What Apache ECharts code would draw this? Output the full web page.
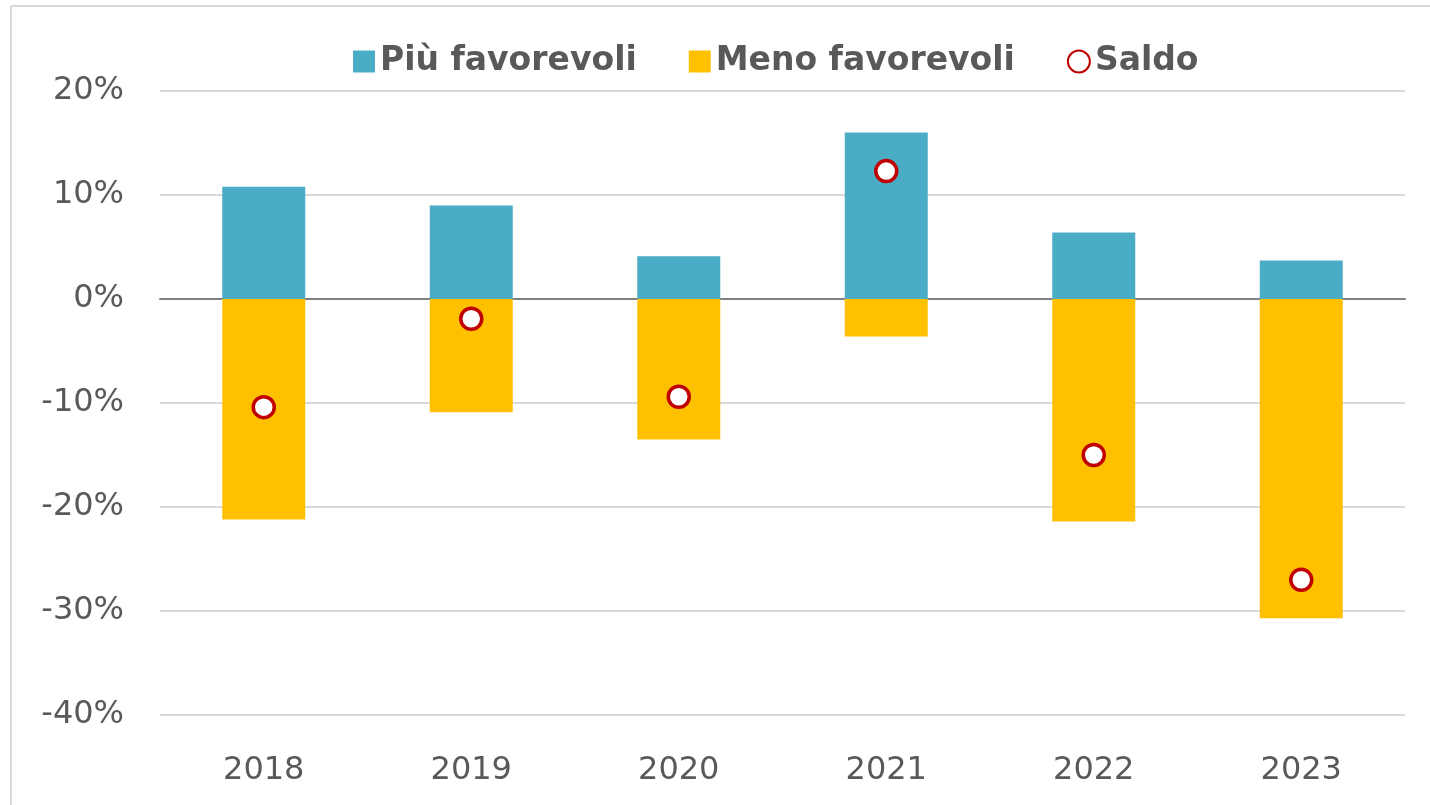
<!DOCTYPE html>
<html lang="it">
<head>
    <meta charset="UTF-8">
    <title>Saldo</title>
    <style>
        html, body { margin: 0; padding: 0; background: #fff; }
        #chart { width: 1430px; height: 805px; }
    </style>
</head>
<body>
    <div id="chart"></div>
    <script src="https://cdn.jsdelivr.net/npm/echarts@6/dist/echarts.min.js"></script>
    <script>
        var anni = ['2018', '2019', '2020', '2021', '2022', '2023'];
        var piuFavorevoli = [10.8, 9.0, 4.1, 16.0, 6.4, 3.7];
        var menoFavorevoli = [-21.2, -10.9, -13.5, -3.6, -21.4, -30.7];
        var saldo = [-10.4, -1.9, -9.4, 12.3, -15.0, -27.0];

        var font = 'Tahoma, "DejaVu Sans", sans-serif';
        var grigio = '#595959';

        var myChart = echarts.init(document.getElementById('chart'));
        var option = {
            animation: false,
            textStyle: { fontFamily: font },
            // cornice della figura (solo lato sinistro e alto visibili)
            graphic: [
                {
                    type: 'line',
                    shape: { x1: 11, y1: 6, x2: 1430, y2: 6 },
                    style: { stroke: '#d9d9d9', lineWidth: 2 },
                    silent: true
                },
                {
                    type: 'line',
                    shape: { x1: 11, y1: 6, x2: 11, y2: 805 },
                    style: { stroke: '#d9d9d9', lineWidth: 2 },
                    silent: true
                }
            ],
            legend: {
                top: 40,
                left: 348,
                itemWidth: 22,
                itemHeight: 22,
                itemGap: 52,
                textStyle: { fontSize: 33, fontWeight: 'bold', color: grigio, fontFamily: font },
                data: [
                    { name: 'Più favorevoli', icon: 'rect' },
                    { name: 'Meno favorevoli', icon: 'rect' },
                    { name: 'Saldo', icon: 'circle' }
                ]
            },
            grid: { left: 160, right: 25, top: 91, bottom: 90, containLabel: false },
            xAxis: {
                type: 'category',
                data: anni,
                axisLine: { onZero: true, lineStyle: { color: '#808080', width: 2 } },
                axisTick: { show: false },
                axisLabel: { fontSize: 32, color: grigio, margin: 40 }
            },
            yAxis: {
                type: 'value',
                min: -40,
                max: 20,
                interval: 10,
                axisLine: { show: false },
                axisTick: { show: false },
                splitLine: { lineStyle: { color: '#d9d9d9', width: 2 } },
                axisLabel: { fontSize: 32, color: grigio, margin: 36, formatter: '{value}%', padding: [14, 0, 0, 0] }
            },
            series: [
                {
                    name: 'Più favorevoli',
                    type: 'bar',
                    stack: 'tot',
                    barWidth: '40%',
                    itemStyle: { color: '#4bacc6' },
                    data: piuFavorevoli
                },
                {
                    name: 'Meno favorevoli',
                    type: 'bar',
                    stack: 'tot',
                    barWidth: '40%',
                    itemStyle: { color: '#ffc000' },
                    data: menoFavorevoli
                },
                {
                    name: 'Saldo',
                    type: 'scatter',
                    symbol: 'circle',
                    symbolSize: 21,
                    itemStyle: { color: '#ffffff', borderColor: '#c00000', borderWidth: 3.5, opacity: 1 },
                    z: 5,
                    data: saldo
                }
            ]
        };
        myChart.setOption(option);
    </script>
</body>
</html>
